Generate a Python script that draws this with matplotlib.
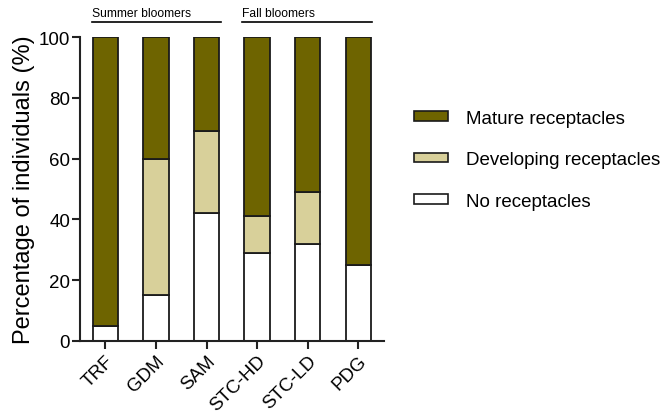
import matplotlib.pyplot as plt
from matplotlib.patches import Patch
import numpy as np

plt.rcParams['font.family'] = ['Liberation Sans', 'DejaVu Sans']

sites = ['TRF', 'GDM', 'SAM', 'STC-HD', 'STC-LD', 'PDG']
no_rec = [5, 15, 42, 29, 32, 25]
developing = [0, 45, 27, 12, 17, 0]
mature = [95, 40, 31, 59, 51, 75]

col_mature = '#6e6400'
col_dev = '#d8d09a'
col_none = '#ffffff'

fig = plt.figure(figsize=(6.71, 4.14), dpi=100)
ax = fig.add_axes([0.119, 0.174, 0.453, 0.734])

x = np.arange(len(sites))
w = 0.5
kw = dict(width=w, edgecolor='#1a1a1a', linewidth=1.3)
ax.bar(x, no_rec, color=col_none, **kw)
ax.bar(x, developing, bottom=no_rec, color=col_dev, **kw)
ax.bar(x, mature, bottom=np.array(no_rec) + np.array(developing), color=col_mature, **kw)

ax.set_xlim(-0.5, 5.5)
ax.set_ylim(0, 100)
ax.set_yticks([0, 20, 40, 60, 80, 100])
ax.set_xticks(x)
ax.set_xticklabels(sites, rotation=45, ha='right', rotation_mode='anchor')
ax.tick_params(width=1.5, length=6, color='#222222')
ax.tick_params(axis='y', labelsize=13.5, pad=1)
ax.tick_params(axis='x', labelsize=13.5, pad=2)
ax.set_ylabel('Percentage of individuals (%)', fontsize=17, labelpad=3)

for s in ['top', 'right']:
    ax.spines[s].set_visible(False)
for s in ['left', 'bottom']:
    ax.spines[s].set_linewidth(1.5)
    ax.spines[s].set_color('#222222')

# group brackets above bars
for lo, hi, txt in [(-0.26, 2.29, 'Summer bloomers'), (2.71, 5.27, 'Fall bloomers')]:
    ax.plot([lo, hi], [105, 105], color='black', lw=1.2, clip_on=False)
    ax.text(lo, 106, txt, fontsize=8.7, ha='left', va='bottom')

handles = [Patch(facecolor=col_mature, edgecolor='#1a1a1a', lw=1.2),
           Patch(facecolor=col_dev, edgecolor='#1a1a1a', lw=1.2),
           Patch(facecolor=col_none, edgecolor='#1a1a1a', lw=1.2)]
labels = ['Mature receptacles', 'Developing receptacles', 'No receptacles']
fig.legend(handles, labels, loc='center left', bbox_to_anchor=(0.592, 0.612),
           frameon=False, fontsize=13.5, handlelength=1.8, handleheight=0.4,
           labelspacing=1.3, handletextpad=0.95)

fig.savefig('out.png', dpi=100)
